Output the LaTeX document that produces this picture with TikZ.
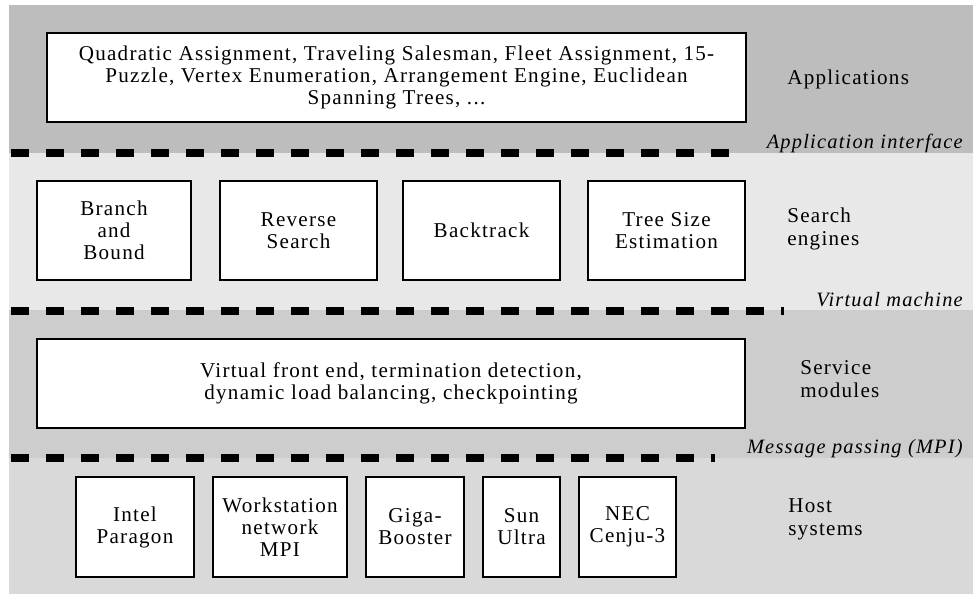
\documentclass[tikz,border=0pt]{standalone}
\usepackage{fontspec}
\setmainfont{Liberation Serif}[LetterSpace=6.0]
\definecolor{appband}{HTML}{BDBDBD}
\definecolor{searchband}{HTML}{E8E8E8}
\definecolor{serviceband}{HTML}{CDCDCD}
\definecolor{hostband}{HTML}{D9D9D9}

\tikzset{
  layerbox/.style={draw=black, line width=1.3pt, fill=white, align=center, inner sep=1pt,
    font=\fontsize{15}{15.6}\selectfont},
  sidelabel/.style={anchor=west, align=left, inner sep=0pt, font=\fontsize{15}{16.4}\selectfont},
  ifacelabel/.style={anchor=east, inner sep=0pt, font=\fontsize{14.5}{15}\selectfont\itshape},
  ifaceline/.style={line width=0.2cm, dash pattern=on 0.45cm off 0.425cm},
}

\begin{document}
\begin{tikzpicture}[x=0.025cm,y=-0.025cm]
\useasboundingbox (0,0) rectangle (973,594);

% the four layers
\fill[appband] (9,5) rectangle (973,153);
\fill[searchband] (9,153) rectangle (973,310);
\fill[serviceband] (9,310) rectangle (973,458);
\fill[hostband] (9,458) rectangle (973,594);

% applications
\node[layerbox, minimum width=17.475cm, minimum height=2.225cm] (apps) at (396.5,77.5)
  {Quadratic Assignment, Traveling Salesman, Fleet Assignment, 15-\\
   Puzzle, Vertex Enumeration, Arrangement Engine, Euclidean\\
   Spanning Trees, ...};
\node[sidelabel] (appslabel) at (787,79) {Applications};

% search engines
\node[layerbox, minimum width=3.85cm, minimum height=2.475cm] (bnb) at (114,230.5) {Branch\\and\\Bound};
\node[layerbox, minimum width=3.925cm, minimum height=2.475cm] (rsearch) at (298.5,230.5) {Reverse\\Search};
\node[layerbox, minimum width=3.925cm, minimum height=2.475cm] (btrack) at (481.5,230.5) {Backtrack};
\node[layerbox, minimum width=3.925cm, minimum height=2.475cm] (tsize) at (666.5,230.5) {Tree Size\\Estimation};
\node[sidelabel] (searchlabel) at (787,229) {Search\\engines};

% service modules
\node[layerbox, minimum width=17.7cm, minimum height=2.225cm] (service) at (391,383.5)
  {Virtual front end, termination detection,\\dynamic load balancing, checkpointing};
\node[sidelabel] (servicelabel) at (800,379) {Service\\modules};

% host systems
\node[layerbox, minimum width=2.95cm, minimum height=2.5cm] (paragon) at (135,527) {Intel\\Paragon};
\node[layerbox, minimum width=3.35cm, minimum height=2.5cm] (wsnet) at (280,527) {Workstation\\network\\MPI};
\node[layerbox, minimum width=2.45cm, minimum height=2.5cm] (giga) at (415,527) {Giga-\\Booster};
\node[layerbox, minimum width=1.925cm, minimum height=2.5cm] (sun) at (521.5,527) {Sun\\Ultra};
\node[layerbox, minimum width=2.425cm, minimum height=2.5cm] (nec) at (627.5,527) {NEC\\Cenju-3};
\node[sidelabel] (hostlabel) at (788,519) {Host\\systems};

% interfaces between layers
\coordinate (ai-l) at (11,153);
\coordinate (ai-r) at (730,153);
\coordinate (vm-l) at (11,311);
\coordinate (vm-r) at (784,311);
\coordinate (mp-l) at (11,458);
\coordinate (mp-r) at (715,458);
\draw[ifaceline] (ai-l) -- (ai-r);
\draw[ifaceline] (vm-l) -- (vm-r);
\draw[ifaceline] (mp-l) -- (mp-r);
\node[ifacelabel] (ailabel) at (963,143) {Application interface};
\node[ifacelabel] (vmlabel) at (963,300) {Virtual machine};
\node[ifacelabel] (mplabel) at (963,449) {Message passing (MPI)};
\end{tikzpicture}
\end{document}
